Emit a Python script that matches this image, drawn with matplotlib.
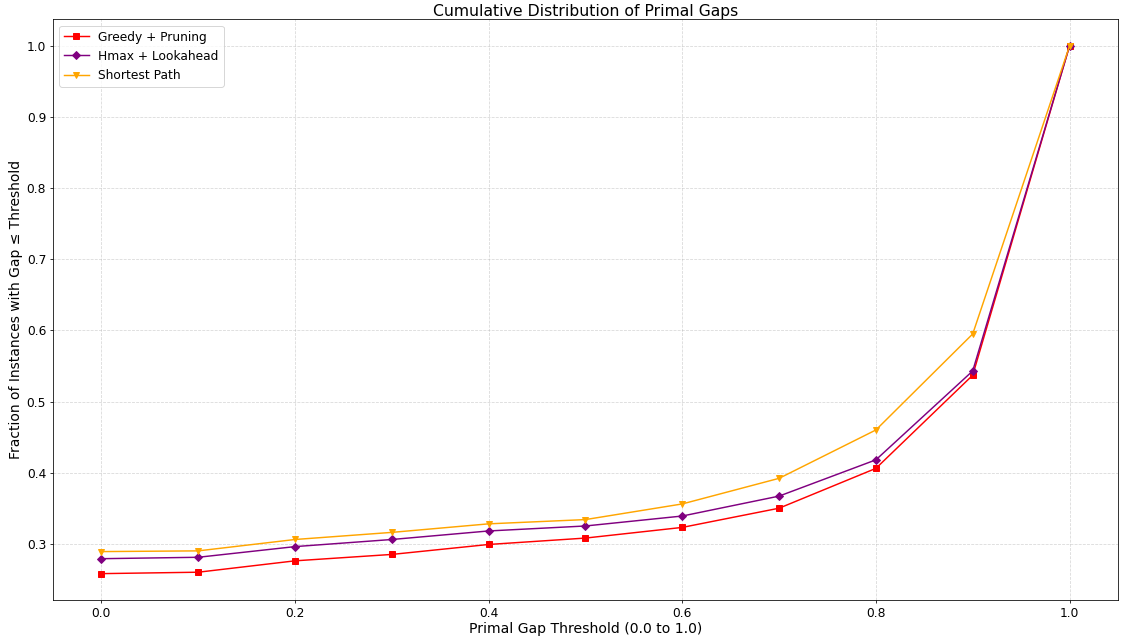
import numpy as np
import matplotlib
matplotlib.use("Agg")
import matplotlib.pyplot as plt

# Primal gap thresholds and cumulative fraction of instances per method
thresholds = [0.0, 0.1, 0.2, 0.3, 0.4, 0.5, 0.6, 0.7, 0.8, 0.9, 1.0]

greedy_pruning = [0.258, 0.260, 0.276, 0.285, 0.299, 0.308, 0.323, 0.350, 0.406, 0.537, 1.0]
hmax_lookahead = [0.279, 0.281, 0.296, 0.306, 0.318, 0.325, 0.339, 0.367, 0.418, 0.543, 1.0]
shortest_path  = [0.289, 0.290, 0.306, 0.316, 0.328, 0.334, 0.356, 0.392, 0.460, 0.595, 1.0]

DPI = 70.2
fig, ax = plt.subplots(figsize=(1123 / DPI, 639 / DPI), dpi=DPI)
fig.subplots_adjust(left=0.0472, right=0.9955, top=0.9695, bottom=0.061)

ax.plot(thresholds, greedy_pruning, marker="s", color="red", label="Greedy + Pruning")
ax.plot(thresholds, hmax_lookahead, marker="D", color="purple", label="Hmax + Lookahead")
ax.plot(thresholds, shortest_path, marker="v", color="orange", label="Shortest Path")

ax.set_xlabel("Primal Gap Threshold (0.0 to 1.0)", fontsize=14.4, labelpad=2)
ax.set_ylabel("Fraction of Instances with Gap \u2264 Threshold", fontsize=14.2)
ax.set_title("Cumulative Distribution of Primal Gaps", fontsize=16, pad=4)
ax.tick_params(labelsize=12.6)
ax.grid(True, linestyle="--", alpha=0.5)
ax.legend(fontsize=12.6, loc="upper left")

plt.savefig("out.png", dpi=DPI)
